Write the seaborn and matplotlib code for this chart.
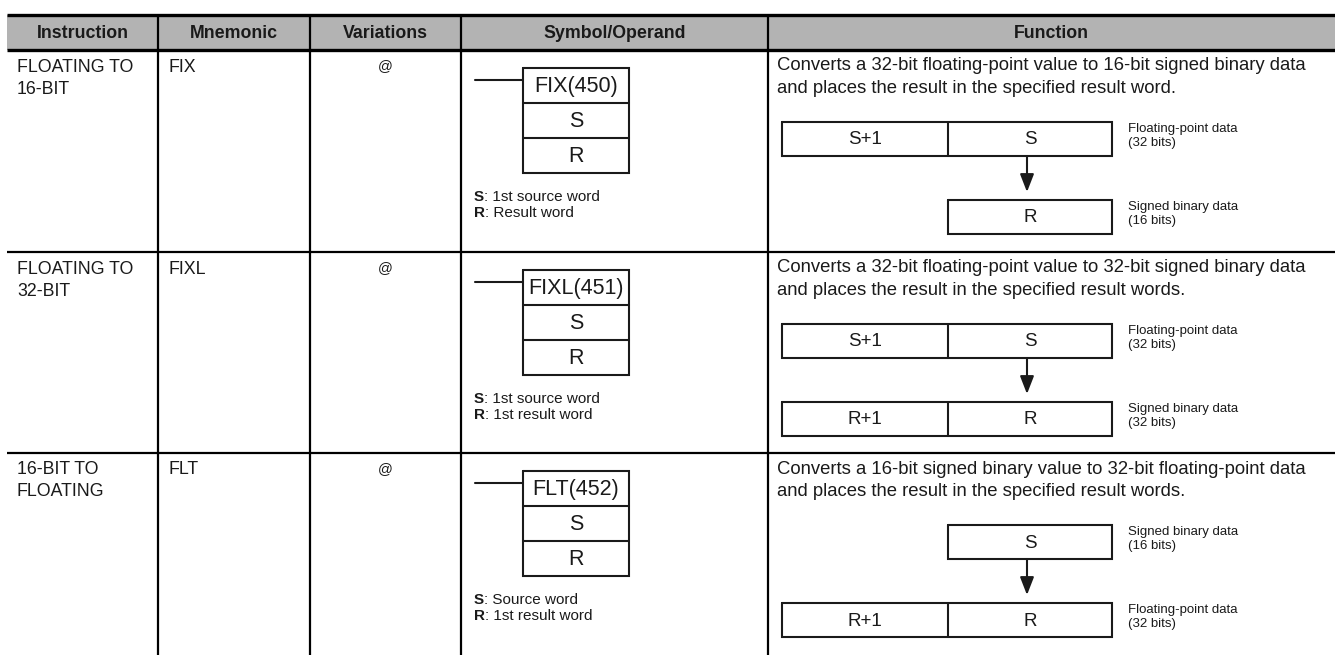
"""
Floating-point conversion instructions table (FIX / FIXL / FLT)
"""

import matplotlib
matplotlib.use("Agg")
import matplotlib.pyplot as plt
import seaborn as sns

sns.set_theme(style="white")
plt.rcParams["font.family"] = ["Liberation Sans", "DejaVu Sans"]

# -----------------------------
# TABLE CONTENT
# -----------------------------
headers = ["Instruction", "Mnemonic", "Variations", "Symbol/Operand", "Function"]
instructions = ["FLOATING TO\n16-BIT", "FLOATING TO\n32-BIT", "16-BIT TO\nFLOATING"]
mnemonics = ["FIX", "FIXL", "FLT"]
variations = ["@", "@", "@"]
symbols = ["FIX(450)", "FIXL(451)", "FLT(452)"]
operand_s = ["1st source word", "1st source word", "Source word"]
operand_r = ["Result word", "1st result word", "1st result word"]
functions = [
    "Converts a 32-bit floating-point value to 16-bit signed binary data\nand places the result in the specified result word.",
    "Converts a 32-bit floating-point value to 32-bit signed binary data\nand places the result in the specified result words.",
    "Converts a 16-bit signed binary value to 32-bit floating-point data\nand places the result in the specified result words.",
]
source_cells = [["S+1", "S"], ["S+1", "S"], ["S"]]
result_cells = [["R"], ["R+1", "R"], ["R+1", "R"]]
source_notes = ["Floating-point data\n(32 bits)", "Floating-point data\n(32 bits)", "Signed binary data\n(16 bits)"]
result_notes = ["Signed binary data\n(16 bits)", "Signed binary data\n(32 bits)", "Floating-point data\n(32 bits)"]

# -----------------------------
# LAYOUT (pixels)
# -----------------------------
W, H = 1335, 655
col_x = [7, 158, 310, 461, 768, W]
header_top, header_bot = 15, 50
row_tops = [50, 252, 453, H]
ink = "#1a1a1a"

fig = plt.figure(figsize=(W / 100, H / 100), dpi=100)
ax = fig.add_axes([0, 0, 1, 1])
ax.set_xlim(0, W)
ax.set_ylim(H, 0)
ax.axis("off")

# header band
ax.fill_between([col_x[0], W], header_top, header_bot, color="#b3b3b3", lw=0)
ax.plot([col_x[0], W], [header_top, header_top], color="black", lw=2.4, solid_capstyle="butt")
ax.plot([col_x[0], W], [header_bot, header_bot], color="black", lw=2.4, solid_capstyle="butt")
for i, h in enumerate(headers):
    ax.text((col_x[i] + col_x[i + 1]) / 2, (header_top + header_bot) / 2 + 1, h,
            ha="center", va="center", fontsize=12.8, fontweight="bold", color=ink)

# grid lines
for x in col_x[1:-1]:
    ax.plot([x, x], [header_top, H], color="black", lw=1.6, solid_capstyle="butt")
for y in row_tops[1:-1]:
    ax.plot([col_x[0], W], [y, y], color="black", lw=1.6, solid_capstyle="butt")


def box(x0, x1, y0, y1, lw=1.5):
    ax.plot([x0, x1, x1, x0, x0], [y0, y0, y1, y1, y0], color=ink, lw=lw,
            solid_joinstyle="miter")


def lines(x, y, txt, step, **kw):
    for k, line in enumerate(txt.split("\n")):
        ax.text(x, y + k * step, line, **kw)


for r in range(3):
    top = row_tops[r]

    # text columns
    lines(col_x[0] + 10, top + 17, instructions[r], 22, ha="left", va="center",
          fontsize=12.8, color=ink)
    ax.text(col_x[1] + 10, top + 17, mnemonics[r], ha="left", va="center", fontsize=12.8, color=ink)
    ax.text((col_x[2] + col_x[3]) / 2, top + 16, variations[r], ha="center", va="center",
            fontsize=10.5, color=ink)

    # ladder symbol
    bx0, bx1 = 523, 629
    by = [top + 18 + 35 * k for k in range(4)]
    ax.plot([475, bx0], [top + 30, top + 30], color=ink, lw=1.5)
    box(bx0, bx1, by[0], by[3])
    for yy in by[1:3]:
        ax.plot([bx0, bx1], [yy, yy], color=ink, lw=1.5)
    for k, t in enumerate([symbols[r], "S", "R"]):
        ax.text((bx0 + bx1) / 2, (by[k] + by[k + 1]) / 2 + 1, t, ha="center", va="center",
                fontsize=15.5, color=ink)

    # operand descriptions
    for k, (lab, desc) in enumerate([("S", operand_s[r]), ("R", operand_r[r])]):
        t = ax.text(474, by[3] + 24 + 16 * k, lab, ha="left", va="center", fontsize=11,
                    fontweight="bold", color=ink)
        ax.annotate(": " + desc, xy=(1, 0), xycoords=t, ha="left", va="bottom",
                    fontsize=11, color=ink)

    # function text
    lines(col_x[4] + 9, top + 16, functions[r], 22.5, ha="left", va="center",
          fontsize=13.3, color=ink)

    # data flow diagram
    xl, xm, xr = 782, 948, 1112
    sy0 = top + 72
    ry0 = top + 150
    for cells, y0, note in [(source_cells[r], sy0, source_notes[r]),
                            (result_cells[r], ry0, result_notes[r])]:
        y1 = y0 + 34
        if len(cells) == 2:
            box(xl, xr, y0, y1)
            ax.plot([xm, xm], [y0, y1], color=ink, lw=1.5)
            ax.text((xl + xm) / 2, (y0 + y1) / 2 + 1, cells[0], ha="center", va="center",
                    fontsize=13.5, color=ink)
        else:
            box(xm, xr, y0, y1)
        ax.text((xm + xr) / 2, (y0 + y1) / 2 + 1, cells[-1], ha="center", va="center",
                fontsize=13.5, color=ink)
        lines(xr + 16, y0 + 7, note, 14, ha="left", va="center", fontsize=9.5, color=ink)

    ax_x = (xm + xr) / 2 - 3
    ax.annotate("", xy=(ax_x, ry0 - 8), xytext=(ax_x, sy0 + 34),
                arrowprops=dict(arrowstyle="-|>,head_length=0.9,head_width=0.35",
                                color=ink, lw=1.5, shrinkA=0, shrinkB=0))

fig.savefig("out.png", dpi=100)
